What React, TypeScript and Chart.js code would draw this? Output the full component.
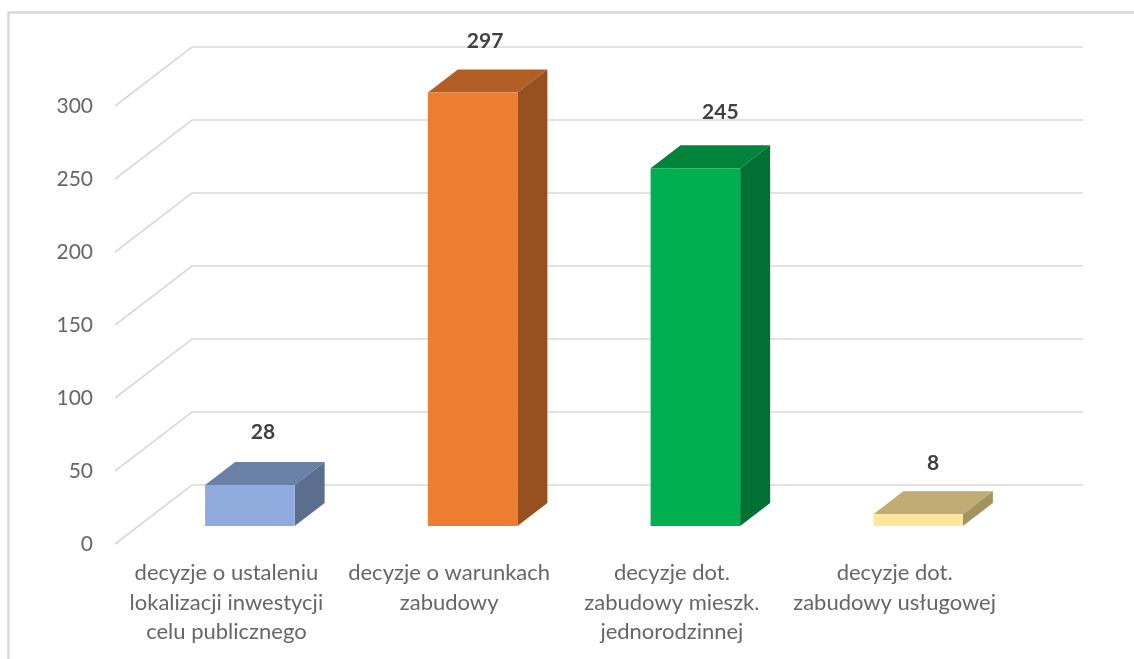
import React, { useEffect, useRef } from "react";
import { Chart, registerables } from "chart.js";

Chart.register(...registerables);

const categories = [
  ["decyzje o ustaleniu", "lokalizacji inwestycji", "celu publicznego"],
  ["decyzje o warunkach", "zabudowy"],
  ["decyzje dot.", "zabudowy mieszk.", "jednorodzinnej"],
  ["decyzje dot.", "zabudowy usługowej"],
];
const values = [28, 297, 245, 8];
const frontColors = ["#8FAADC", "#ED7D31", "#00B050", "#FFE699"];
const topColors = ["#6B80A5", "#B25E25", "#00843C", "#BFAD73"];
const sideColors = ["#5B6E8E", "#97501F", "#007033", "#A39362"];

const GRID = "#D9D9D9";
const WALL = { dx: 77, dy: -59 };
const BAR = { dx: 23.5, dy: -18 };
const DEPTH = { dx: 30, dy: -23 };
const LABEL = [
  { dx: 13, dy: -53 },
  { dx: 12.5, dy: -51 },
  { dx: 25, dy: -56 },
  { dx: 15, dy: -51 },
];

function poly(ctx: CanvasRenderingContext2D, pts: number[][], fill: string) {
  ctx.fillStyle = fill;
  ctx.beginPath();
  pts.forEach(([x, y], i) => (i ? ctx.lineTo(x, y) : ctx.moveTo(x, y)));
  ctx.closePath();
  ctx.fill();
}

const scene3d = {
  id: "scene3d",
  beforeDatasetsDraw(chart: any) {
    const { ctx, chartArea, scales } = chart;
    ctx.save();
    // outer frame
    ctx.strokeStyle = GRID;
    ctx.lineWidth = 2.5;
    ctx.beginPath();
    ctx.moveTo(8.5, 659);
    ctx.lineTo(8.5, 12.5);
    ctx.lineTo(1134, 12.5);
    ctx.stroke();
    // walls
    ctx.lineWidth = 1.6;
    scales.y.ticks.forEach((t: any) => {
      const y = scales.y.getPixelForValue(t.value);
      ctx.beginPath();
      ctx.moveTo(chartArea.left, y);
      ctx.lineTo(chartArea.left + WALL.dx, y + WALL.dy);
      ctx.lineTo(chartArea.right + WALL.dx, y + WALL.dy);
      ctx.stroke();
    });
    // bar sides and tops
    const meta = chart.getDatasetMeta(0);
    meta.data.forEach((bar: any, i: number) => {
      const l = bar.x - bar.width / 2 + BAR.dx;
      const r = bar.x + bar.width / 2 + BAR.dx;
      const t = bar.y + BAR.dy;
      const b = bar.base + BAR.dy;
      poly(ctx, [[l, t], [r, t], [r + DEPTH.dx, t + DEPTH.dy], [l + DEPTH.dx, t + DEPTH.dy]], topColors[i]);
      poly(ctx, [[r, t], [r + DEPTH.dx, t + DEPTH.dy], [r + DEPTH.dx, b + DEPTH.dy], [r, b]], sideColors[i]);
    });
    ctx.restore();
    ctx.save();
    ctx.translate(BAR.dx, BAR.dy);
  },
  afterDatasetsDraw(chart: any) {
    const { ctx } = chart;
    ctx.restore();
    ctx.save();
    ctx.font = 'bold 21px Lato';
    ctx.fillStyle = "#404040";
    ctx.textAlign = "center";
    ctx.textBaseline = "middle";
    chart.getDatasetMeta(0).data.forEach((bar: any, i: number) => {
      ctx.fillText(
        String(values[i]),
        bar.x + BAR.dx + LABEL[i].dx,
        bar.y + BAR.dy + LABEL[i].dy
      );
    });
    ctx.restore();
  },
};

export default function App() {
  const ref = useRef<HTMLCanvasElement>(null);
  useEffect(() => {
    const chart = new Chart(ref.current!, {
      type: "bar",
      data: {
        labels: categories,
        datasets: [
          {
            data: values,
            backgroundColor: frontColors,
            borderWidth: 0,
            barPercentage: 0.402,
            categoryPercentage: 1,
          },
        ],
      },
      options: {
        responsive: false,
        animation: false,
        layout: { padding: { top: 106, right: 128, left: 0, bottom: 0 } },
        plugins: { legend: { display: false }, tooltip: { enabled: false } },
        scales: {
          x: {
            grid: { display: false },
            border: { display: false },
            afterFit: (s: any) => {
              s.height = 115;
            },
            ticks: {
              autoSkip: false,
              maxRotation: 0,
              minRotation: 0,
              padding: 6,
              color: "#666666",
              font: { family: "Lato", size: 22, lineHeight: 1.35 },
            },
          },
          y: {
            min: 0,
            max: 300,
            grid: { display: false },
            border: { display: false },
            afterFit: (s: any) => {
              s.width = 115;
            },
            ticks: {
              stepSize: 50,
              padding: 14,
              color: "#666666",
              font: { family: "Lato", size: 21 },
            },
          },
        },
      },
      plugins: [scene3d],
    });
    return () => chart.destroy();
  }, []);
  return (
    <div style={{ position: "fixed", left: 0, top: 0, width: 1134, height: 659, background: "#FFFFFF" }}>
      <canvas ref={ref} width={1134} height={659} style={{ display: "block" }} />
    </div>
  );
}
